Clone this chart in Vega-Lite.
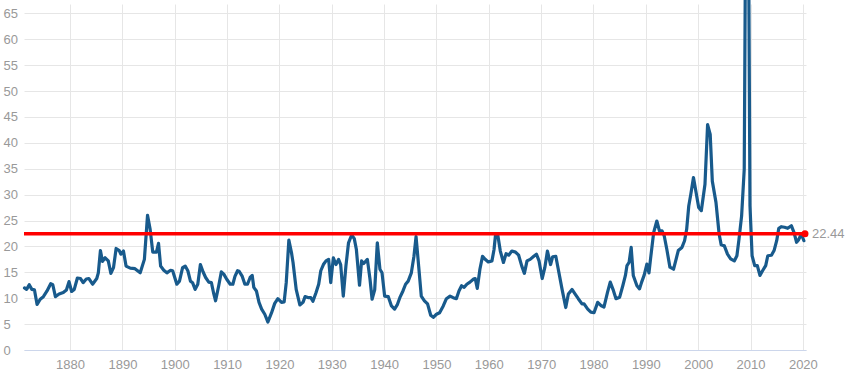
{
  "$schema": "https://vega.github.io/schema/vega-lite/v6.json",
  "width": 782,
  "height": 346,
  "autosize": "none",
  "padding": {"left": 24, "top": 4, "right": 42, "bottom": 23},
  "background": "white",
  "config": {
    "view": {"stroke": null},
    "axis": {
      "labelFont": "Liberation Sans",
      "labelFontSize": 13,
      "labelColor": "#999999",
      "gridColor": "#e6e6e6",
      "gridWidth": 1,
      "domain": false,
      "ticks": false,
      "tickSize": 0,
      "title": null,
      "labelOverlap": false
    }
  },
  "datasets": {
    "pe": [
      {"year": 1871.3, "pe": 12.0}, {"year": 1871.7, "pe": 11.7}, {"year": 1872.2, "pe": 12.6}, {"year": 1872.7, "pe": 11.7},
      {"year": 1873.2, "pe": 11.6}, {"year": 1873.7, "pe": 8.8}, {"year": 1874.3, "pe": 9.8}, {"year": 1874.9, "pe": 10.3},
      {"year": 1875.6, "pe": 11.4}, {"year": 1876.3, "pe": 12.8}, {"year": 1876.7, "pe": 12.6}, {"year": 1877.2, "pe": 10.3},
      {"year": 1877.9, "pe": 10.8}, {"year": 1878.7, "pe": 11.1}, {"year": 1879.3, "pe": 11.6}, {"year": 1879.8, "pe": 13.2},
      {"year": 1880.3, "pe": 11.3}, {"year": 1880.8, "pe": 11.7}, {"year": 1881.4, "pe": 13.9}, {"year": 1882.0, "pe": 13.8},
      {"year": 1882.5, "pe": 13.0}, {"year": 1883.1, "pe": 13.7}, {"year": 1883.6, "pe": 13.8}, {"year": 1884.3, "pe": 12.7},
      {"year": 1885.1, "pe": 13.8}, {"year": 1885.4, "pe": 14.9}, {"year": 1885.8, "pe": 19.2}, {"year": 1886.2, "pe": 17.1},
      {"year": 1886.7, "pe": 17.8}, {"year": 1887.3, "pe": 17.2}, {"year": 1887.8, "pe": 14.8}, {"year": 1888.3, "pe": 15.9},
      {"year": 1888.8, "pe": 19.6}, {"year": 1889.4, "pe": 19.2}, {"year": 1889.7, "pe": 18.5}, {"year": 1890.2, "pe": 19.1},
      {"year": 1890.7, "pe": 16.2}, {"year": 1891.5, "pe": 15.8}, {"year": 1892.4, "pe": 15.7}, {"year": 1893.4, "pe": 14.9},
      {"year": 1894.2, "pe": 17.5}, {"year": 1894.8, "pe": 26.0}, {"year": 1895.3, "pe": 23.3}, {"year": 1895.8, "pe": 18.9},
      {"year": 1896.5, "pe": 18.9}, {"year": 1896.9, "pe": 20.6}, {"year": 1897.3, "pe": 16.2}, {"year": 1897.9, "pe": 15.4},
      {"year": 1898.5, "pe": 14.9}, {"year": 1899.2, "pe": 15.4}, {"year": 1899.6, "pe": 15.3}, {"year": 1900.4, "pe": 12.7},
      {"year": 1900.9, "pe": 13.3}, {"year": 1901.5, "pe": 15.9}, {"year": 1902.0, "pe": 16.2}, {"year": 1902.5, "pe": 15.3},
      {"year": 1903.0, "pe": 13.3}, {"year": 1903.4, "pe": 13.0}, {"year": 1903.9, "pe": 11.7}, {"year": 1904.4, "pe": 12.7},
      {"year": 1904.9, "pe": 16.5}, {"year": 1905.4, "pe": 15.1}, {"year": 1905.9, "pe": 14.0}, {"year": 1906.5, "pe": 13.1},
      {"year": 1907.0, "pe": 13.0}, {"year": 1907.4, "pe": 11.1}, {"year": 1907.8, "pe": 9.5}, {"year": 1908.4, "pe": 12.4},
      {"year": 1908.9, "pe": 15.1}, {"year": 1909.4, "pe": 14.6}, {"year": 1909.9, "pe": 13.7}, {"year": 1910.6, "pe": 12.7},
      {"year": 1911.1, "pe": 12.7}, {"year": 1911.5, "pe": 14.2}, {"year": 1912.0, "pe": 15.3}, {"year": 1912.3, "pe": 15.2},
      {"year": 1912.9, "pe": 14.2}, {"year": 1913.4, "pe": 12.7}, {"year": 1913.9, "pe": 12.7}, {"year": 1914.4, "pe": 14.0},
      {"year": 1914.8, "pe": 14.4}, {"year": 1915.1, "pe": 12.1}, {"year": 1915.6, "pe": 11.4}, {"year": 1916.1, "pe": 9.2},
      {"year": 1916.6, "pe": 7.9}, {"year": 1917.2, "pe": 6.9}, {"year": 1917.8, "pe": 5.4}, {"year": 1918.5, "pe": 7.2},
      {"year": 1919.1, "pe": 9.0}, {"year": 1919.7, "pe": 9.9}, {"year": 1920.4, "pe": 9.2}, {"year": 1920.9, "pe": 9.3},
      {"year": 1921.3, "pe": 13.0}, {"year": 1921.8, "pe": 21.2}, {"year": 1922.3, "pe": 18.8}, {"year": 1922.6, "pe": 16.9},
      {"year": 1923.2, "pe": 11.7}, {"year": 1923.9, "pe": 8.7}, {"year": 1924.5, "pe": 9.2}, {"year": 1924.9, "pe": 10.3},
      {"year": 1925.6, "pe": 10.1}, {"year": 1926.0, "pe": 10.1}, {"year": 1926.4, "pe": 9.4}, {"year": 1927.0, "pe": 11.1},
      {"year": 1927.5, "pe": 12.7}, {"year": 1927.9, "pe": 15.3}, {"year": 1928.4, "pe": 16.5}, {"year": 1928.9, "pe": 17.2},
      {"year": 1929.4, "pe": 17.5}, {"year": 1929.8, "pe": 13.0}, {"year": 1930.3, "pe": 17.8}, {"year": 1930.8, "pe": 16.5},
      {"year": 1931.3, "pe": 17.5}, {"year": 1931.7, "pe": 16.5}, {"year": 1932.2, "pe": 10.4}, {"year": 1932.7, "pe": 16.2},
      {"year": 1933.2, "pe": 20.7}, {"year": 1933.8, "pe": 22.2}, {"year": 1934.3, "pe": 21.5}, {"year": 1934.7, "pe": 19.4},
      {"year": 1935.3, "pe": 12.5}, {"year": 1935.7, "pe": 17.2}, {"year": 1936.1, "pe": 16.7}, {"year": 1936.8, "pe": 17.5},
      {"year": 1937.3, "pe": 13.7}, {"year": 1937.7, "pe": 9.8}, {"year": 1938.2, "pe": 11.6}, {"year": 1938.7, "pe": 20.7},
      {"year": 1939.2, "pe": 15.6}, {"year": 1939.6, "pe": 14.9}, {"year": 1940.1, "pe": 10.4}, {"year": 1940.8, "pe": 10.3},
      {"year": 1941.4, "pe": 8.5}, {"year": 1942.0, "pe": 7.9}, {"year": 1942.5, "pe": 8.7}, {"year": 1943.0, "pe": 10.1},
      {"year": 1943.6, "pe": 11.4}, {"year": 1944.1, "pe": 12.7}, {"year": 1944.6, "pe": 13.3}, {"year": 1945.2, "pe": 14.9},
      {"year": 1945.7, "pe": 18.1}, {"year": 1946.1, "pe": 21.9}, {"year": 1946.6, "pe": 16.2}, {"year": 1947.1, "pe": 10.4},
      {"year": 1947.7, "pe": 9.5}, {"year": 1948.3, "pe": 8.9}, {"year": 1948.9, "pe": 6.7}, {"year": 1949.4, "pe": 6.3},
      {"year": 1950.0, "pe": 6.9}, {"year": 1950.6, "pe": 7.2}, {"year": 1951.3, "pe": 8.5}, {"year": 1951.9, "pe": 9.9},
      {"year": 1952.6, "pe": 10.4}, {"year": 1953.2, "pe": 10.1}, {"year": 1953.8, "pe": 9.9}, {"year": 1954.3, "pe": 11.4},
      {"year": 1954.8, "pe": 12.4}, {"year": 1955.3, "pe": 12.1}, {"year": 1955.8, "pe": 12.7}, {"year": 1956.4, "pe": 13.1},
      {"year": 1957.1, "pe": 13.7}, {"year": 1957.4, "pe": 13.8}, {"year": 1957.8, "pe": 11.9}, {"year": 1958.3, "pe": 15.6},
      {"year": 1958.8, "pe": 18.1}, {"year": 1959.3, "pe": 17.5}, {"year": 1959.9, "pe": 17.0}, {"year": 1960.6, "pe": 17.2},
      {"year": 1961.0, "pe": 19.4}, {"year": 1961.3, "pe": 22.4}, {"year": 1961.7, "pe": 22.3}, {"year": 1962.2, "pe": 19.1},
      {"year": 1962.8, "pe": 16.9}, {"year": 1963.3, "pe": 18.6}, {"year": 1963.8, "pe": 18.3}, {"year": 1964.4, "pe": 19.1},
      {"year": 1965.1, "pe": 18.9}, {"year": 1965.7, "pe": 18.3}, {"year": 1966.3, "pe": 16.2}, {"year": 1966.8, "pe": 14.8},
      {"year": 1967.3, "pe": 17.2}, {"year": 1967.9, "pe": 17.5}, {"year": 1968.6, "pe": 18.1}, {"year": 1969.1, "pe": 18.5},
      {"year": 1969.6, "pe": 17.2}, {"year": 1970.2, "pe": 13.8}, {"year": 1970.7, "pe": 15.9}, {"year": 1971.2, "pe": 19.1},
      {"year": 1971.8, "pe": 16.5}, {"year": 1972.2, "pe": 18.0}, {"year": 1972.8, "pe": 18.1}, {"year": 1973.4, "pe": 14.9},
      {"year": 1974.0, "pe": 11.7}, {"year": 1974.7, "pe": 8.2}, {"year": 1975.2, "pe": 10.8}, {"year": 1975.9, "pe": 11.7},
      {"year": 1976.5, "pe": 10.8}, {"year": 1977.1, "pe": 9.9}, {"year": 1977.8, "pe": 8.9}, {"year": 1978.2, "pe": 8.9},
      {"year": 1978.9, "pe": 7.9}, {"year": 1979.5, "pe": 7.3}, {"year": 1980.1, "pe": 7.2}, {"year": 1980.8, "pe": 9.2},
      {"year": 1981.4, "pe": 8.6}, {"year": 1982.0, "pe": 8.3}, {"year": 1982.7, "pe": 11.2}, {"year": 1983.2, "pe": 13.1},
      {"year": 1983.8, "pe": 11.5}, {"year": 1984.3, "pe": 9.9}, {"year": 1985.0, "pe": 10.2}, {"year": 1985.6, "pe": 12.4},
      {"year": 1986.1, "pe": 14.4}, {"year": 1986.4, "pe": 16.3}, {"year": 1986.8, "pe": 16.9}, {"year": 1987.2, "pe": 19.8},
      {"year": 1987.6, "pe": 14.4}, {"year": 1988.3, "pe": 12.4}, {"year": 1988.8, "pe": 11.8}, {"year": 1989.2, "pe": 13.1},
      {"year": 1989.7, "pe": 14.5}, {"year": 1990.2, "pe": 16.6}, {"year": 1990.6, "pe": 14.9}, {"year": 1990.9, "pe": 17.6},
      {"year": 1991.5, "pe": 22.7}, {"year": 1992.1, "pe": 24.9}, {"year": 1992.6, "pe": 23.0}, {"year": 1993.1, "pe": 23.0},
      {"year": 1993.5, "pe": 22.1}, {"year": 1994.0, "pe": 19.5}, {"year": 1994.6, "pe": 16.0}, {"year": 1995.3, "pe": 15.6},
      {"year": 1995.8, "pe": 17.6}, {"year": 1996.2, "pe": 19.2}, {"year": 1996.9, "pe": 19.8}, {"year": 1997.4, "pe": 21.1},
      {"year": 1997.8, "pe": 23.3}, {"year": 1998.2, "pe": 27.8}, {"year": 1998.6, "pe": 30.1}, {"year": 1999.1, "pe": 33.3},
      {"year": 1999.6, "pe": 30.4}, {"year": 2000.1, "pe": 27.5}, {"year": 2000.6, "pe": 26.9}, {"year": 2001.3, "pe": 32.0},
      {"year": 2001.8, "pe": 43.5}, {"year": 2002.3, "pe": 41.6}, {"year": 2002.7, "pe": 32.6}, {"year": 2003.4, "pe": 28.5},
      {"year": 2004.0, "pe": 22.4}, {"year": 2004.4, "pe": 20.3}, {"year": 2005.0, "pe": 20.1}, {"year": 2005.6, "pe": 18.5},
      {"year": 2006.2, "pe": 17.6}, {"year": 2006.9, "pe": 17.2}, {"year": 2007.4, "pe": 18.2}, {"year": 2007.8, "pe": 21.4},
      {"year": 2008.3, "pe": 25.9}, {"year": 2008.8, "pe": 34.9}, {"year": 2009.0, "pe": 70.9}, {"year": 2009.4, "pe": 123.7},
      {"year": 2009.9, "pe": 27.8}, {"year": 2010.3, "pe": 18.2}, {"year": 2010.8, "pe": 16.3}, {"year": 2011.3, "pe": 16.3},
      {"year": 2011.8, "pe": 14.4}, {"year": 2012.3, "pe": 15.3}, {"year": 2012.9, "pe": 16.3}, {"year": 2013.3, "pe": 18.2},
      {"year": 2014.0, "pe": 18.3}, {"year": 2014.5, "pe": 19.2}, {"year": 2015.0, "pe": 21.1}, {"year": 2015.4, "pe": 23.5},
      {"year": 2015.9, "pe": 23.8}, {"year": 2016.5, "pe": 23.7}, {"year": 2017.1, "pe": 23.5}, {"year": 2017.8, "pe": 24.0},
      {"year": 2018.3, "pe": 22.7}, {"year": 2018.8, "pe": 20.8}, {"year": 2019.2, "pe": 21.3}, {"year": 2019.7, "pe": 22.4},
      {"year": 2020.2, "pe": 21.1}
    ],
    "cur": [{"start": 1871.2, "end": 2020.4, "v": 22.44, "label": "22.44"}]
  },
  "layer": [
    {
      "data": {"name": "pe"},
      "mark": {"type": "line", "color": "#185a8c", "strokeWidth": 3.2, "strokeJoin": "round", "strokeCap": "round"},
      "encoding": {
        "x": {
          "field": "year", "type": "quantitative",
          "scale": {"domain": [1871.2, 2020.6], "nice": false, "zero": false},
          "axis": {"values": [1880, 1890, 1900, 1910, 1920, 1930, 1940, 1950, 1960, 1970, 1980, 1990, 2000, 2010, 2020], "format": "d", "grid": true, "labelPadding": 8, "domain": true, "domainColor": "#ccd6eb", "labelFlush": false}
        },
        "y": {
          "field": "pe", "type": "quantitative",
          "scale": {"domain": [0, 66.8], "nice": false},
          "axis": {"values": [0, 5, 10, 15, 20, 25, 30, 35, 40, 45, 50, 55, 60, 65], "labelAlign": "left", "labelPadding": 21, "grid": true, "labelOverlap": false, "tickCount": 14}
        }
      }
    },
    {
      "data": {"name": "cur"},
      "mark": {"type": "rule", "color": "#ff0000", "strokeWidth": 3.5},
      "encoding": {
        "x": {"field": "start", "type": "quantitative",
          "axis": {"values": [1880, 1890, 1900, 1910, 1920, 1930, 1940, 1950, 1960, 1970, 1980, 1990, 2000, 2010, 2020], "format": "d", "grid": true, "labelPadding": 8, "domain": true, "domainColor": "#ccd6eb", "labelFlush": false}},
        "x2": {"field": "end"},
        "y": {"field": "v", "type": "quantitative",
          "axis": {"values": [0, 5, 10, 15, 20, 25, 30, 35, 40, 45, 50, 55, 60, 65], "labelAlign": "left", "labelPadding": 21, "grid": true, "labelOverlap": false, "tickCount": 14}}
      }
    },
    {
      "data": {"name": "cur"},
      "mark": {"type": "point", "filled": true, "color": "#ff0000", "size": 50, "opacity": 1},
      "encoding": {
        "x": {"field": "end", "type": "quantitative",
          "axis": {"values": [1880, 1890, 1900, 1910, 1920, 1930, 1940, 1950, 1960, 1970, 1980, 1990, 2000, 2010, 2020], "format": "d", "grid": true, "labelPadding": 8, "domain": true, "domainColor": "#ccd6eb", "labelFlush": false}},
        "y": {"field": "v", "type": "quantitative",
          "axis": {"values": [0, 5, 10, 15, 20, 25, 30, 35, 40, 45, 50, 55, 60, 65], "labelAlign": "left", "labelPadding": 21, "grid": true, "labelOverlap": false, "tickCount": 14}}
      }
    },
    {
      "data": {"name": "cur"},
      "mark": {"type": "text", "align": "left", "baseline": "middle", "dx": 7, "color": "#999999", "font": "Liberation Sans", "fontSize": 13},
      "encoding": {
        "x": {"field": "end", "type": "quantitative",
          "axis": {"values": [1880, 1890, 1900, 1910, 1920, 1930, 1940, 1950, 1960, 1970, 1980, 1990, 2000, 2010, 2020], "format": "d", "grid": true, "labelPadding": 8, "domain": true, "domainColor": "#ccd6eb", "labelFlush": false}},
        "y": {"field": "v", "type": "quantitative",
          "axis": {"values": [0, 5, 10, 15, 20, 25, 30, 35, 40, 45, 50, 55, 60, 65], "labelAlign": "left", "labelPadding": 21, "grid": true, "labelOverlap": false, "tickCount": 14}},
        "text": {"field": "label"}
      }
    }
  ]
}
